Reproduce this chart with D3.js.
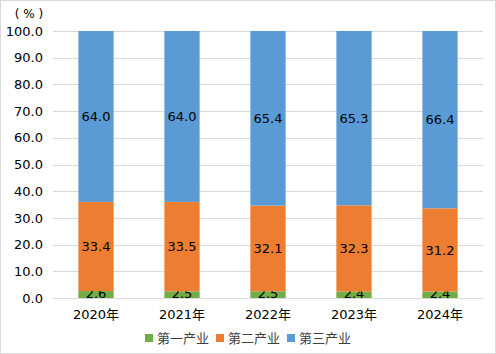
<!DOCTYPE html>
<html>
<head>
<meta charset="utf-8">
<script src="https://cdn.jsdelivr.net/npm/d3@7"></script>
<style>
  body { margin: 0; background: #fff; }
  svg text { font-family: "DejaVu Sans", "Noto Sans CJK SC", sans-serif; fill: #000; }
</style>
</head>
<body>
<div id="chart"></div>
<script>
// data
var years = ["2020年", "2021年", "2022年", "2023年", "2024年"];
var primary = [2.6, 2.5, 2.5, 2.4, 2.4];
var secondary = [33.4, 33.5, 32.1, 32.3, 31.2];
var tertiary = [64.0, 64.0, 65.4, 65.3, 66.4];
var seriesNames = ["第一产业", "第二产业", "第三产业"];
var seriesColors = ["#70ad47", "#ed7d31", "#5b9bd5"];
var yTicks = [0, 10, 20, 30, 40, 50, 60, 70, 80, 90, 100];

var width = 496, height = 354;
var margin = { top: 31, right: 13, bottom: 56, left: 53 };

var svg = d3.select("#chart").append("svg")
  .attr("width", width)
  .attr("height", height);

// outer frame
svg.append("rect")
  .attr("x", 0.5).attr("y", 0.5)
  .attr("width", width - 1).attr("height", height - 1)
  .attr("fill", "#fff")
  .attr("stroke", "#d9d9d9");

var x = d3.scaleBand()
  .domain(years)
  .range([margin.left, width - margin.right])
  .paddingInner(0.59)
  .paddingOuter(0.295);

var y = d3.scaleLinear()
  .domain([0, 100])
  .range([height - margin.bottom, margin.top]);

// gridlines
svg.append("g")
  .selectAll("line")
  .data(yTicks)
  .enter()
  .append("line")
  .attr("x1", margin.left)
  .attr("x2", width - margin.right)
  .attr("y1", function (d) { return Math.round(y(d)) + 0.5; })
  .attr("y2", function (d) { return Math.round(y(d)) + 0.5; })
  .attr("stroke", "#d9d9d9")
  .attr("stroke-width", 1);

// y axis labels
var yAxis = d3.axisLeft(y)
  .tickValues(yTicks)
  .tickFormat(d3.format(".1f"))
  .tickSize(0)
  .tickPadding(10);

svg.append("g")
  .attr("transform", "translate(" + margin.left + ",0)")
  .call(yAxis)
  .call(function (g) { g.select(".domain").remove(); })
  .selectAll("text")
  .style("font-size", "13px");

svg.append("text")
  .attr("x", 29)
  .attr("y", 18)
  .attr("text-anchor", "middle")
  .style("font-size", "12px")
  .text("( % )");

// stack the series
var rows = years.map(function (yr, i) {
  return { year: yr, s0: primary[i], s1: secondary[i], s2: tertiary[i] };
});
var stack = d3.stack().keys(["s0", "s1", "s2"]);
var layers = stack(rows);

var groups = svg.append("g")
  .selectAll("g")
  .data(layers)
  .enter()
  .append("g")
  .attr("fill", function (d, i) { return seriesColors[i]; });

groups.selectAll("rect")
  .data(function (d) { return d; })
  .enter()
  .append("rect")
  .attr("x", function (d) { return x(d.data.year); })
  .attr("width", x.bandwidth())
  .attr("y", function (d) { return y(d[1]); })
  .attr("height", function (d) { return y(d[0]) - y(d[1]); });

// value labels
groups.selectAll("text")
  .data(function (d) { return d.map(function (p) { return { p: p, key: d.key }; }); })
  .enter()
  .append("text")
  .attr("x", function (d) { return x(d.p.data.year) + x.bandwidth() / 2; })
  .attr("y", function (d) { return (y(d.p[0]) + y(d.p[1])) / 2 - (d.key === "s0" ? 1.5 : 0); })
  .attr("dy", "0.36em")
  .attr("text-anchor", "middle")
  .style("font-size", "13px")
  .text(function (d) { return d.p.data[d.key].toFixed(1); });

// baseline
svg.append("line")
  .attr("x1", margin.left)
  .attr("x2", width - margin.right)
  .attr("y1", Math.round(y(0)) + 0.5)
  .attr("y2", Math.round(y(0)) + 0.5)
  .attr("stroke", "#d9d9d9");

// x axis labels
var xAxis = d3.axisBottom(x).tickSize(0).tickPadding(12);
svg.append("g")
  .attr("transform", "translate(0," + y(0) + ")")
  .call(xAxis)
  .call(function (g) { g.select(".domain").remove(); })
  .selectAll("text")
  .style("font-size", "13px");

// legend
var legendX = [145, 216, 287];
var legend = svg.append("g")
  .selectAll("g")
  .data(seriesNames)
  .enter()
  .append("g")
  .attr("transform", function (d, i) { return "translate(" + legendX[i] + ",334)"; });

legend.append("rect")
  .attr("width", 8)
  .attr("height", 8)
  .attr("fill", function (d, i) { return seriesColors[i]; });

legend.append("text")
  .attr("x", 12)
  .attr("y", 4)
  .attr("dy", "0.36em")
  .style("font-size", "13px")
  .style("fill", "#404040")
  .text(function (d) { return d; });
</script>
</body>
</html>
